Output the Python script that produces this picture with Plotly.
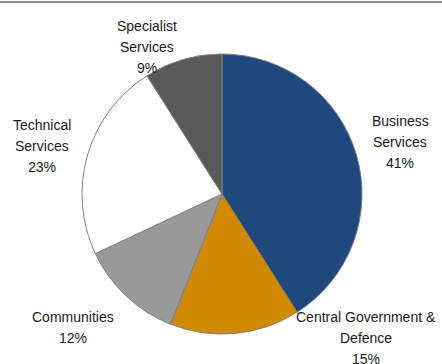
import plotly.graph_objects as go

# Revenue mix by market segment
segments = ["Business Services", "Central Government & Defence", "Communities",
            "Technical Services", "Specialist Services"]
shares = [41, 15, 12, 23, 9]
colors = ["#1F497D", "#D08A00", "#999999", "#FFFFFF", "#595959"]

# How each label is broken over lines
label_lines = [
    ["Business", "Services"],
    ["Central Government &", "Defence"],
    ["Communities"],
    ["Technical", "Services"],
    ["Specialist", "Services"],
]

W, H = 442, 364
CX, CY, R = 222, 194, 140  # pie centre and radius in pixels

# Label anchor (centre x, first-line centre y) in pixels
label_anchor = [(400, 121), (366, 317), (73, 317), (42, 125), (147, 26)]
LINE_H = 21

fig = go.Figure(go.Pie(
    labels=segments,
    values=shares,
    sort=False,
    direction="clockwise",
    rotation=0,
    marker=dict(colors=colors, line=dict(color="#808080", width=1)),
    textinfo="none",
    hoverinfo="label+percent",
    showlegend=False,
    domain=dict(x=[(CX - R) / W, (CX + R) / W],
                y=[(H - CY - R) / H, (H - CY + R) / H]),
))

annotations = []
for lines, share, (ax, ay) in zip(label_lines, shares, label_anchor):
    for i, txt in enumerate(lines + [f"{share}%"]):
        annotations.append(dict(
            x=ax / W, y=1 - (ay + i * LINE_H) / H,
            xref="paper", yref="paper", text=txt, showarrow=False,
            xanchor="center", yanchor="middle",
            font=dict(family="Liberation Sans, Arial, sans-serif", size=14, color="#1a1a1a"),
        ))

fig.update_layout(
    width=W, height=H,
    margin=dict(l=0, r=0, t=0, b=0),
    paper_bgcolor="white",
    plot_bgcolor="white",
    annotations=annotations,
    shapes=[dict(type="line", xref="paper", yref="paper",
                 x0=0, x1=1, y0=1 - 2 / H, y1=1 - 2 / H,
                 line=dict(color="#8C8C8C", width=2))],
)

fig.write_html("out.html")
